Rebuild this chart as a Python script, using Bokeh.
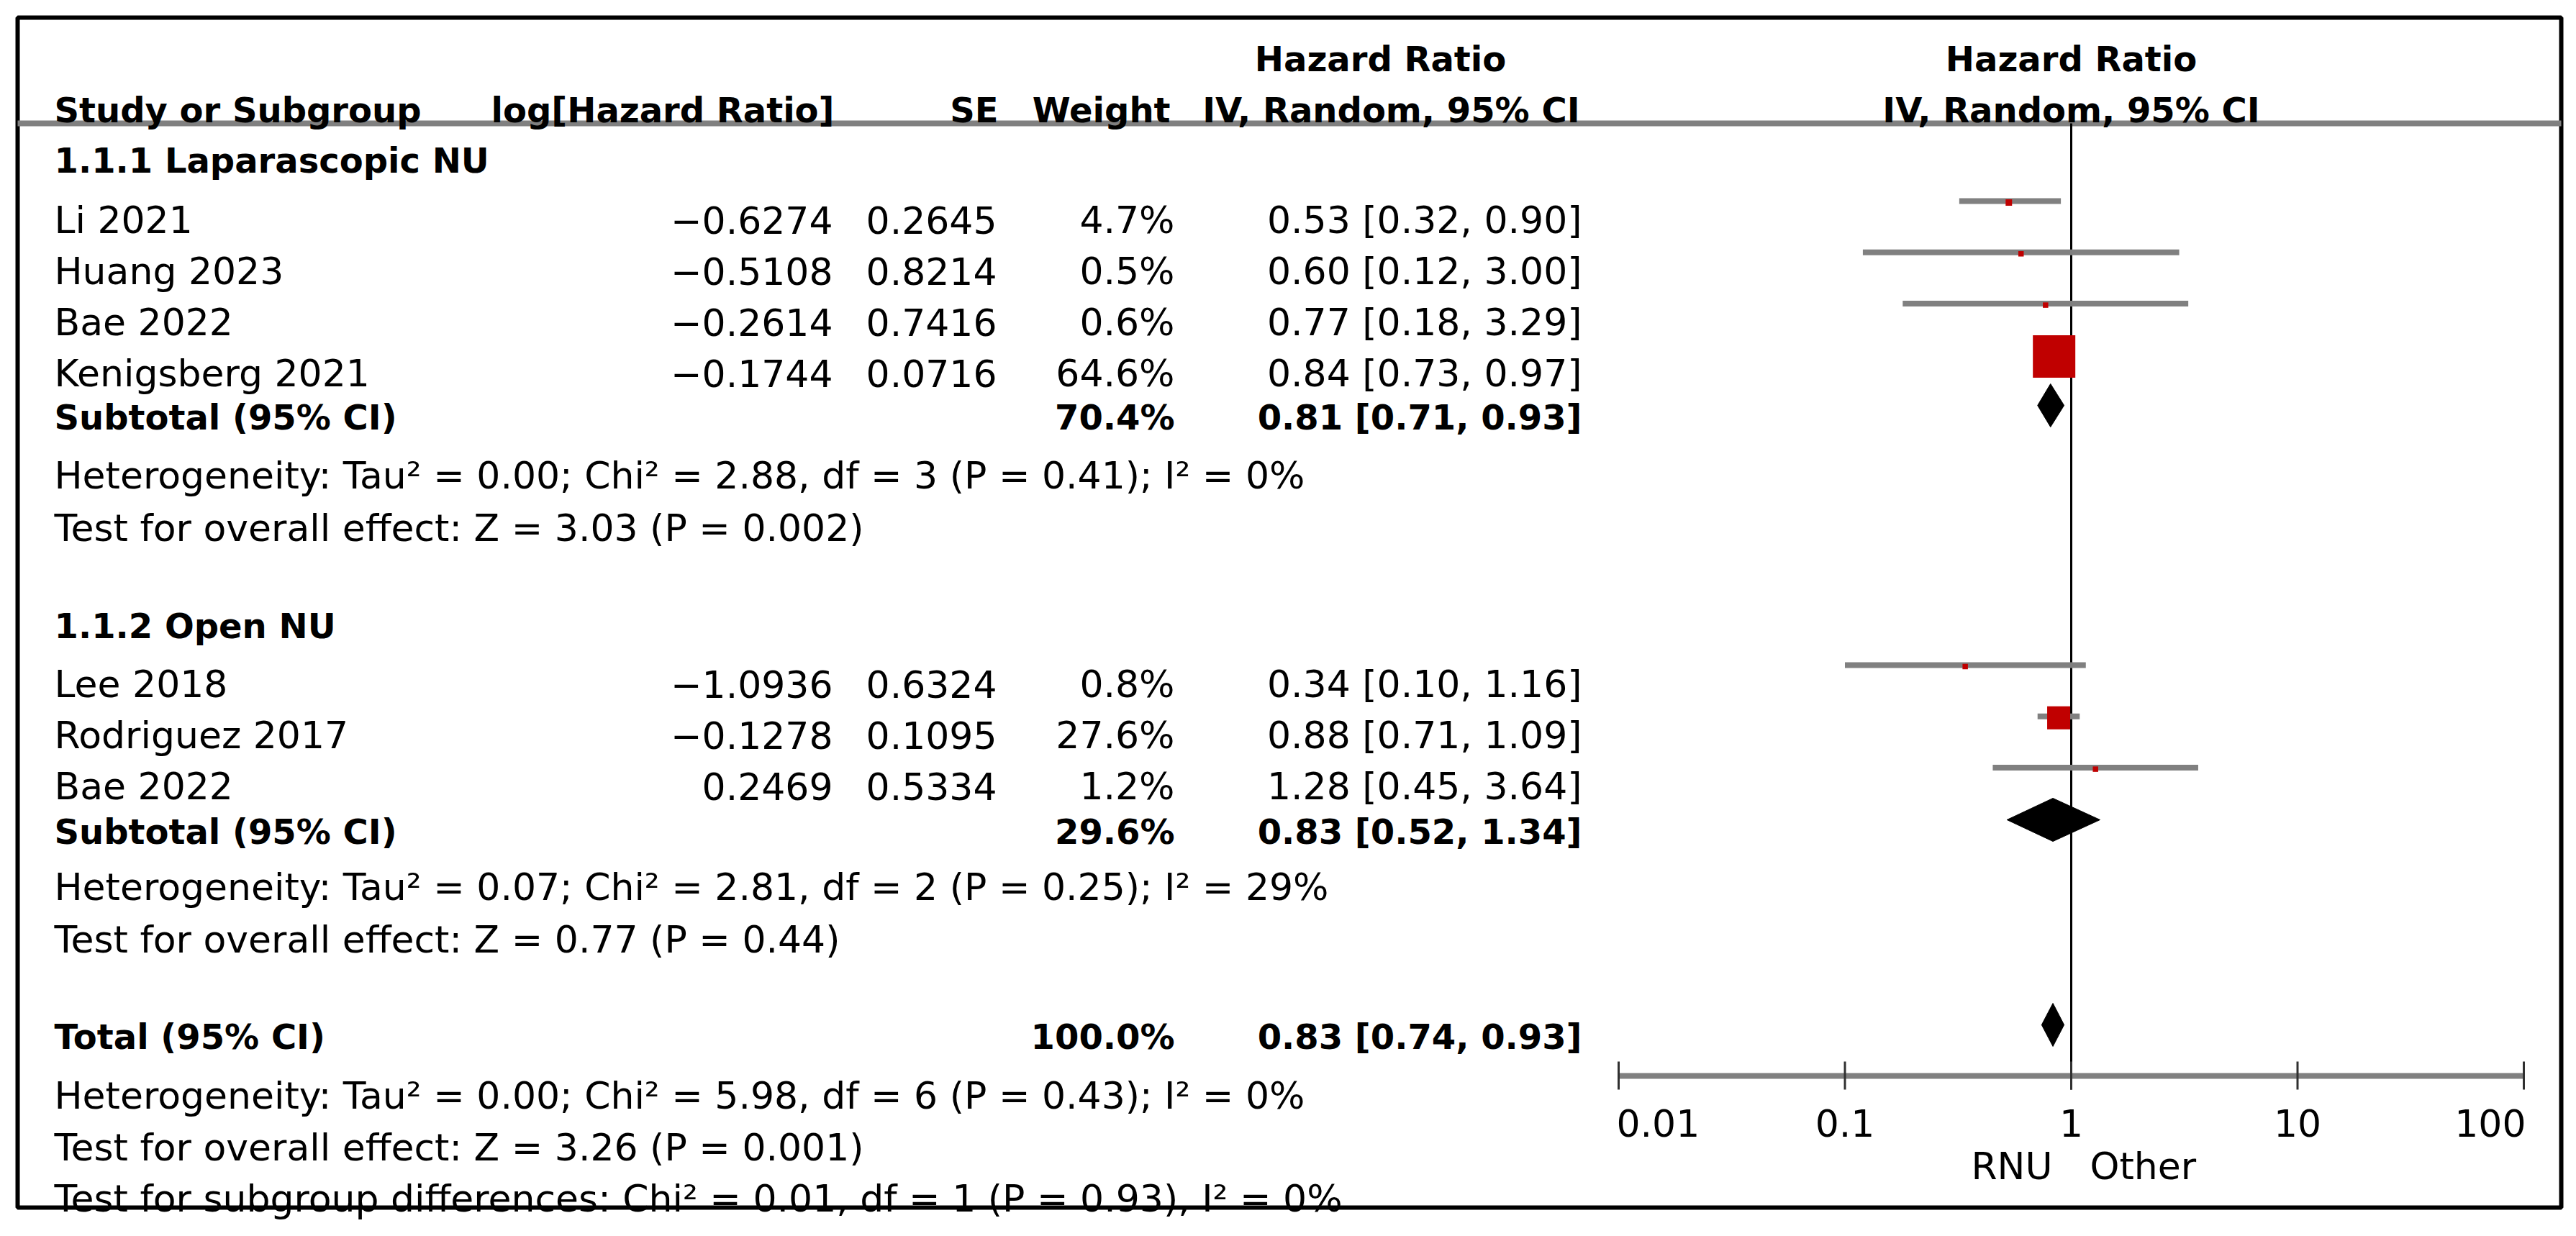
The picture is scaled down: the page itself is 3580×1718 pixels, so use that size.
import math
from bokeh.plotting import figure
from bokeh.models import Range1d, LogScale, ColumnDataSource
from bokeh.core.properties import value
from bokeh.embed import file_html
from bokeh.resources import INLINE

# ---------------- data ----------------
study_names = ["Li 2021", "Huang 2023", "Bae 2022", "Kenigsberg 2021",
               "Lee 2018", "Rodriguez 2017", "Bae 2022"]
study_group = [0, 0, 0, 0, 1, 1, 1]
log_hr = [-0.6274, -0.5108, -0.2614, -0.1744, -1.0936, -0.1278, 0.2469]
se = [0.2645, 0.8214, 0.7416, 0.0716, 0.6324, 0.1095, 0.5334]
weight = [4.7, 0.5, 0.6, 64.6, 0.8, 27.6, 1.2]
hr = [0.53, 0.60, 0.77, 0.84, 0.34, 0.88, 1.28]
ci_low = [0.32, 0.12, 0.18, 0.73, 0.10, 0.71, 0.45]
ci_high = [0.90, 3.00, 3.29, 0.97, 1.16, 1.09, 3.64]

subgroup_titles = ["1.1.1 Laparascopic NU", "1.1.2 Open NU"]
subgroup_weight = [70.4, 29.6]
subgroup_hr = [0.81, 0.83]
subgroup_low = [0.71, 0.52]
subgroup_high = [0.93, 1.34]
subgroup_het = ["Heterogeneity: Tau² = 0.00; Chi² = 2.88, df = 3 (P = 0.41); I² = 0%",
                "Heterogeneity: Tau² = 0.07; Chi² = 2.81, df = 2 (P = 0.25); I² = 29%"]
subgroup_test = ["Test for overall effect: Z = 3.03 (P = 0.002)",
                 "Test for overall effect: Z = 0.77 (P = 0.44)"]

total_weight = 100.0
total_hr = 0.83
total_low = 0.74
total_high = 0.93
total_notes = ["Heterogeneity: Tau² = 0.00; Chi² = 5.98, df = 6 (P = 0.43); I² = 0%",
               "Test for overall effect: Z = 3.26 (P = 0.001)",
               "Test for subgroup differences: Chi² = 0.01, df = 1 (P = 0.93), I² = 0%"]

axis_ticks = [0.01, 0.1, 1, 10, 100]
axis_labels = ["0.01", "0.1", "1", "10", "100"]
favours = ["RNU", "Other"]

# ---------------- layout ----------------
W, H = 3564, 1702
FONT = "DejaVu Sans"
REG, BOLD = "52px", "48px"
X_LEFT = 83
X_LOG, X_SE, X_WT, X_CI = 1165, 1393, 1640, 2206
X_ONE, DECADE = 2886, 314.5
BOX = (32, 3567, 32, 1686)
Y_H1, Y_H2, Y_RULE = 89, 160, 179
GROUP_TITLE = [230, 877]
GROUP_FIRST = [313, 958]
ROW_STEP = 71.3
GROUP_SUB = [587, 1163]
GROUP_HET = [668, 1240]
GROUP_TEST = [741, 1313]
Y_TOT = 1448
Y_NOTES = [1530, 1602, 1673]
Y_AXIS, TICK_TOP, TICK_BOT = 1503, 1483, 1522
Y_TICKLAB, Y_FAV = 1568, 1628
CI_OFF, BOX_OFF, DIA_OFF, DIA_H = 26, 24, 16, 30
BOX_MAX, BOX_MIN, BOX_EXP = 59, 7.5, 0.72
GRAY, RED = "#808080", "#C00000"

p = figure(width=W, height=H, output_backend="svg", toolbar_location=None,
           x_axis_location=None, y_axis_location=None, min_border=0,
           x_range=Range1d(8, 8 + W), y_range=Range1d(8 + H, 8))
p.outline_line_color = None
p.grid.grid_line_color = None
p.background_fill_color = "white"
p.border_fill_color = "white"

hr_start = 10 ** ((8 - X_ONE) / DECADE)
hr_end = 10 ** ((8 + W - X_ONE) / DECADE)
p.extra_x_ranges = {"hr": Range1d(hr_start, hr_end)}
p.extra_x_scales = {"hr": LogScale()}


def txt(xs, ys, texts, align="left", bold=False, rng="default", xoff=0):
    src = ColumnDataSource(dict(x=list(xs), y=list(ys), text=list(texts)))
    p.text(x="x", y="y", text="text", source=src, text_align=align,
           text_baseline="alphabetic", text_font=value(FONT),
           text_font_size=BOLD if bold else REG,
           text_font_style="bold" if bold else "normal",
           text_color="black", x_range_name=rng, x_offset=xoff)


# frame and rule
p.quad(left=[BOX[0]], right=[BOX[1]], top=[BOX[2]], bottom=[BOX[3]],
       fill_color=None, line_color="black", line_width=6)
p.segment(x0=[BOX[0]], x1=[BOX[1]], y0=[Y_RULE], y1=[Y_RULE],
          line_color=GRAY, line_width=8)

# headers
txt([X_LEFT], [Y_H2], ["Study or Subgroup"], bold=True)
txt([X_LOG + 2], [Y_H2], ["log[Hazard Ratio]"], align="right", bold=True)
txt([X_SE + 2], [Y_H2], ["SE"], align="right", bold=True)
txt([X_WT - 6], [Y_H2], ["Weight"], align="right", bold=True)
txt([X_CI - 3], [Y_H2], ["IV, Random, 95% CI"], align="right", bold=True)
txt([1926], [Y_H1], ["Hazard Ratio"], align="center", bold=True)
txt([1], [Y_H1], ["Hazard Ratio"], align="center", bold=True, rng="hr")
txt([1], [Y_H2], ["IV, Random, 95% CI"], align="center", bold=True, rng="hr")

# study rows
row_y = []
counts = [0, 0]
for g in study_group:
    row_y.append(GROUP_FIRST[g] + counts[g] * ROW_STEP)
    counts[g] += 1

fmt_log = [f"{v:.4f}".replace("-", "−") for v in log_hr]
fmt_se = [f"{v:.4f}" for v in se]
fmt_wt = [f"{v:.1f}%" for v in weight]
fmt_ci = [f"{a:.2f} [{b:.2f}, {c:.2f}]" for a, b, c in zip(hr, ci_low, ci_high)]

txt([X_LEFT] * len(study_names), row_y, study_names)
txt([X_LOG] * len(row_y), row_y, fmt_log, align="right")
txt([X_SE] * len(row_y), row_y, fmt_se, align="right")
txt([X_WT] * len(row_y), row_y, fmt_wt, align="right")
txt([X_CI] * len(row_y), row_y, fmt_ci, align="right")

# subgroup titles, subtotals, notes
txt([X_LEFT] * 2, GROUP_TITLE, subgroup_titles, bold=True)
txt([X_LEFT] * 2, GROUP_SUB, ["Subtotal (95% CI)"] * 2, bold=True)
txt([X_WT] * 2, GROUP_SUB, [f"{w:.1f}%" for w in subgroup_weight], align="right", bold=True)
txt([X_CI] * 2, GROUP_SUB,
    [f"{a:.2f} [{b:.2f}, {c:.2f}]" for a, b, c in zip(subgroup_hr, subgroup_low, subgroup_high)],
    align="right", bold=True)
txt([X_LEFT] * 2, GROUP_HET, subgroup_het)
txt([X_LEFT] * 2, GROUP_TEST, subgroup_test)

# total
txt([X_LEFT], [Y_TOT], ["Total (95% CI)"], bold=True)
txt([X_WT], [Y_TOT], [f"{total_weight:.1f}%"], align="right", bold=True)
txt([X_CI], [Y_TOT], [f"{total_hr:.2f} [{total_low:.2f}, {total_high:.2f}]"],
    align="right", bold=True)
txt([X_LEFT] * 3, Y_NOTES, total_notes)

# ---------------- forest plot ----------------
# null line
p.segment(x0=[1], x1=[1], y0=[Y_RULE], y1=[TICK_BOT], x_range_name="hr",
          line_color="black", line_width=3)

ci_y = [y - CI_OFF for y in row_y]
p.segment(x0=ci_low, x1=ci_high, y0=ci_y, y1=ci_y, x_range_name="hr",
          line_color=GRAY, line_width=8, line_cap="butt")
wmax = max(weight)
sizes = [max(BOX_MIN, BOX_MAX * (w / wmax) ** BOX_EXP) for w in weight]
p.rect(x=hr, y=[y - BOX_OFF for y in row_y], width=sizes, height=sizes,
       width_units="screen", height_units="screen", x_range_name="hr",
       fill_color=RED, line_color=None)

dia_hr = subgroup_hr + [total_hr]
dia_lo = subgroup_low + [total_low]
dia_hi = subgroup_high + [total_high]
dia_y = [y - DIA_OFF for y in GROUP_SUB + [Y_TOT]]
xs = [[lo, est, hi, est] for est, lo, hi in zip(dia_hr, dia_lo, dia_hi)]
ys = [[y, y - DIA_H, y, y + DIA_H] for y in dia_y]
p.patches(xs, ys, x_range_name="hr", fill_color="black", line_color="black", line_width=1)

# axis
p.segment(x0=[axis_ticks[0]], x1=[axis_ticks[-1]], y0=[Y_AXIS], y1=[Y_AXIS],
          x_range_name="hr", line_color=GRAY, line_width=8, line_cap="butt")
p.segment(x0=axis_ticks, x1=axis_ticks, y0=[TICK_TOP] * len(axis_ticks),
          y1=[TICK_BOT] * len(axis_ticks), x_range_name="hr",
          line_color="#303030", line_width=3)
txt(axis_ticks[:1], [Y_TICKLAB], axis_labels[:1], align="left", rng="hr", xoff=-3)
txt(axis_ticks[1:-1], [Y_TICKLAB] * (len(axis_ticks) - 2), axis_labels[1:-1],
    align="center", rng="hr")
txt(axis_ticks[-1:], [Y_TICKLAB], axis_labels[-1:], align="right", rng="hr", xoff=3)
txt([1], [Y_FAV], favours[:1], align="right", rng="hr", xoff=-26)
txt([1], [Y_FAV], favours[1:], align="left", rng="hr", xoff=26)

open("out.html", "w").write(file_html(p, INLINE))
